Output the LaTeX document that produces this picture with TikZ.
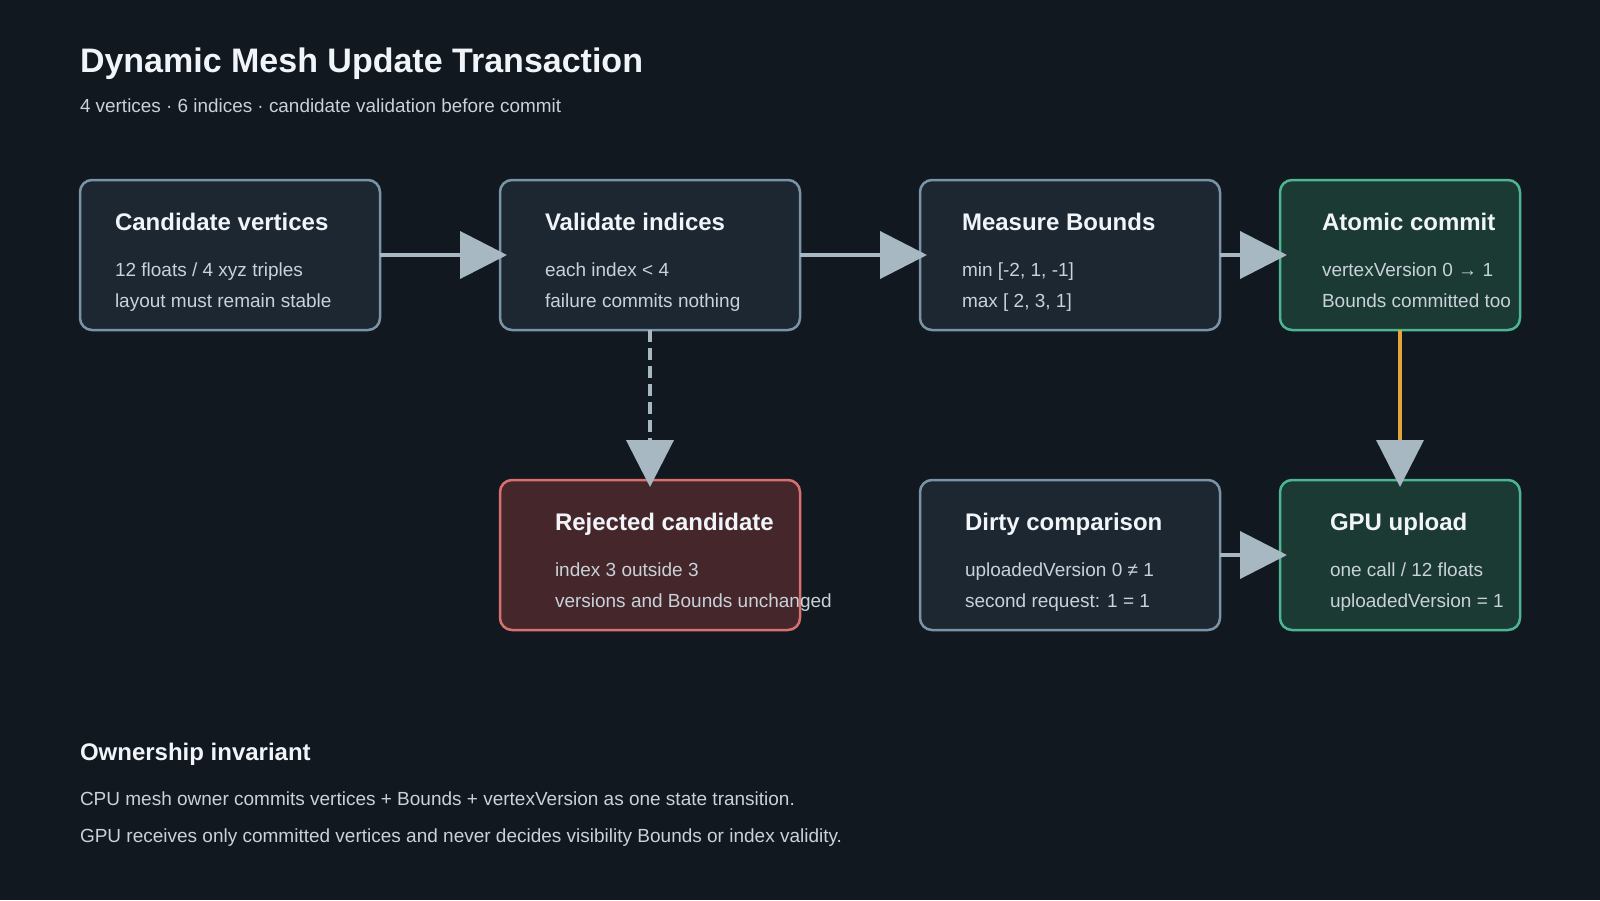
\documentclass[tikz,border=0pt]{standalone}
\usepackage{fontspec}
\setmainfont{Liberation Sans}
\usetikzlibrary{arrows.meta,positioning}

\definecolor{bgc}{HTML}{11181F}
\definecolor{boxfill}{HTML}{1C2731}
\definecolor{boxline}{HTML}{7A93A6}
\definecolor{okfill}{HTML}{1A3A33}
\definecolor{okline}{HTML}{4CB592}
\definecolor{badfill}{HTML}{45272B}
\definecolor{badline}{HTML}{D9706F}
\definecolor{arrowc}{HTML}{A7B8C3}
\definecolor{warmc}{HTML}{E3A440}
\definecolor{titlec}{HTML}{F1F5F9}
\definecolor{bodyc}{HTML}{C9D1D9}

\tikzset{
  box/.style={draw=boxline,fill=boxfill,line width=2.5pt,rounded corners=12pt,
    minimum width=300pt,minimum height=150pt,anchor=north west},
  okbox/.style={box,draw=okline,fill=okfill,minimum width=240pt},
  badbox/.style={box,draw=badline,fill=badfill},
  ttl/.style={font=\fontsize{24}{28}\selectfont\bfseries,text=titlec},
  txt/.style={font=\fontsize{19}{23}\selectfont,text=bodyc},
  flow/.style={draw=arrowc,line width=4pt,-{Triangle[length=47pt,width=47pt]},shorten >=-7pt}
}

\begin{document}
\begin{tikzpicture}[x=1pt,y=-1pt,every node/.style={inner sep=0pt,outer sep=0pt,anchor=base west}]
\fill[bgc] (0,0) rectangle (1600,900);
\useasboundingbox (0,0) rectangle (1600,900);

% heading
\node[font=\fontsize{34}{40}\selectfont\bfseries,text=titlec] (head) at (80,72) {Dynamic Mesh Update Transaction};
\node[font=\fontsize{18.9}{23}\selectfont,text=bodyc] (sub) at (80,112) {4 vertices · 6 indices · candidate validation before commit};

% stages
\node[box] (cand) at (80,180) {};
\node[box] (val) at (500,180) {};
\node[box] (meas) at (920,180) {};
\node[okbox] (atom) at (1280,180) {};
\node[badbox] (rej) at (500,480) {};
\node[box] (dirty) at (920,480) {};
\node[okbox] (gpu) at (1280,480) {};

\node[ttl] (candT) at (115,230) {Candidate vertices};
\node[txt] (candA) at (115,276) {12 floats / 4 xyz triples};
\node[txt] (candB) at (115,307) {layout must remain stable};

\node[ttl] (valT) at (545,230) {Validate indices};
\node[txt] (valA) at (545,276) {each index < 4};
\node[txt] (valB) at (545,307) {failure commits nothing};

\node[ttl] (measT) at (962,230) {Measure Bounds};
\node[txt] (measA) at (962,276) {min [-2, 1, -1]};
\node[txt] (measB) at (962,307) {max [ 2, 3, 1]};

\node[ttl] (atomT) at (1322,230) {Atomic commit};
\node[txt] (atomA) at (1322,276) {vertexVersion 0 → 1};
\node[txt] (atomB) at (1322,307) {Bounds committed too};

\node[ttl] (rejT) at (555,530) {Rejected candidate};
\node[txt] (rejA) at (555,576) {index 3 outside 3};
\node[txt] (rejB) at (555,607) {versions and Bounds unchanged};

\node[ttl] (dirtyT) at (965,530) {Dirty comparison};
\node[txt] (dirtyA) at (965,576) {uploadedVersion 0 ≠ 1};
\node[txt] (dirtyB) at (965,607) {second request: 1 = 1};

\node[ttl] (gpuT) at (1330,530) {GPU upload};
\node[txt] (gpuA) at (1330,576) {one call / 12 floats};
\node[txt] (gpuB) at (1330,607) {uploadedVersion = 1};

% connectors
\draw[flow] (cand.east) -- (val.west);
\draw[flow] (val.east) -- (meas.west);
\draw[flow] (meas.east) -- (atom.west);
\draw[flow,dash pattern=on 12pt off 6pt] (val.south) -- (rej.north);
\draw[flow,draw=warmc,line width=3.5pt,-{Triangle[length=47pt,width=47pt,color=arrowc]}] (atom.south) -- (gpu.north);
\draw[flow] (dirty.east) -- (gpu.west);

% footer
\node[ttl] (ownT) at (80,760) {Ownership invariant};
\node[txt] (ownA) at (80,805) {CPU mesh owner commits vertices + Bounds + vertexVersion as one state transition.};
\node[txt] (ownB) at (80,842) {GPU receives only committed vertices and never decides visibility Bounds or index validity.};
\end{tikzpicture}
\end{document}
